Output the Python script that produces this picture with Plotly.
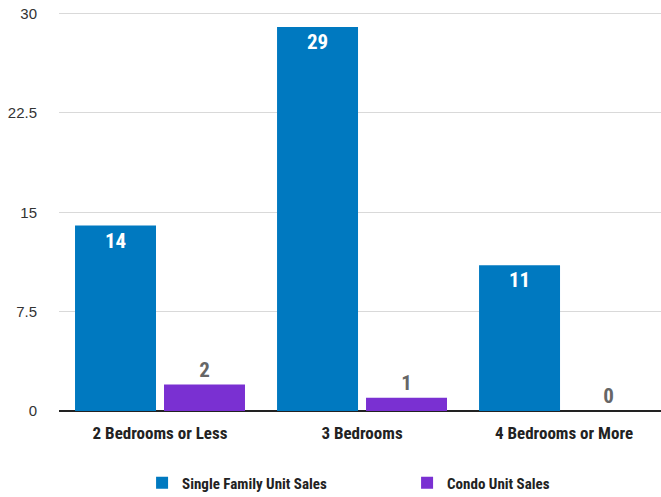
import plotly.graph_objects as go

categories = ["2 Bedrooms or Less", "3 Bedrooms", "4 Bedrooms or More"]
single_family = [14, 29, 11]
condo = [2, 1, 0]
y_ticks = [0, 7.5, 15, 22.5, 30]
y_tick_labels = ["0", "7.5", "15", "22.5", "30"]

COND = "Liberation Sans Narrow, Roboto Condensed, Roboto, Arial Narrow, sans-serif"

fig = go.Figure()
fig.add_trace(go.Bar(
    name="Single Family Unit Sales", x=categories, y=single_family,
    marker=dict(color="#0079c0", line=dict(width=0)),
    text=[str(v) for v in single_family], textposition="inside",
    insidetextanchor="end",
    textfont=dict(family=COND, size=21, color="white", weight="bold"),
    cliponaxis=False,
))
fig.add_trace(go.Bar(
    name="Condo Unit Sales", x=categories, y=condo,
    marker=dict(color="#7a30d2", line=dict(width=0)),
    text=[str(v) for v in condo], textposition="outside",
    textfont=dict(family=COND, size=21, color="#666666", weight="bold"),
    cliponaxis=False,
))

fig.update_layout(
    width=661, height=497,
    margin=dict(l=59, r=0, t=11, b=86, autoexpand=False),
    paper_bgcolor="white", plot_bgcolor="white",
    barmode="group", bargap=0.119, bargroupgap=0.09,
    showlegend=True,
    legend=dict(orientation="h", x=0.138, xanchor="left", y=-0.18, yanchor="middle",
                font=dict(family=COND, size=15, color="#222222", weight="bold"),
                entrywidth=220, entrywidthmode="pixels", traceorder="normal"),
    xaxis=dict(range=[-0.5, 2.48], showgrid=False, showline=False, ticks="",
               automargin=False,
               tickfont=dict(family=COND, size=17, color="#222222", weight="bold"),
               ticklabelstandoff=10),
    yaxis=dict(range=[0, 30.2], tickvals=y_ticks, ticktext=y_tick_labels,
               automargin=False,
               showgrid=True, gridcolor="#d9d9d9", gridwidth=1.3,
               zeroline=True, zerolinecolor="#222222", zerolinewidth=2,
               showline=False, ticks="outside", ticklen=18, tickcolor="rgba(0,0,0,0)",
               tickfont=dict(family="Liberation Sans, Arial, sans-serif", size=15, color="#333333")),
)

fig.write_html("out.html", config={"displayModeBar": False},
               post_script="document.body.style.margin='0px';")
